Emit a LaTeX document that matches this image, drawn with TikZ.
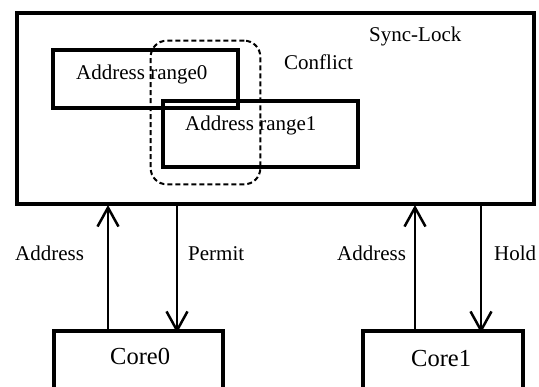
\documentclass[tikz,border=0pt]{standalone}
\usepackage{fontspec}
\setmainfont{Liberation Serif}
\usetikzlibrary{arrows.meta}
\tikzset{
  box/.style={draw, line width=4pt, rectangle, inner sep=0pt, outer sep=2pt},
  dashbox/.style={draw, line width=2pt, rectangle, rounded corners=16pt, dash pattern=on 5pt off 3pt, inner sep=0pt, outer sep=0pt},
  lbl/.style={inner sep=0pt, anchor=base west, font=\fontsize{21}{25}\selectfont},
  corelbl/.style={inner sep=0pt, anchor=base west, font=\fontsize{24.5}{29}\selectfont},
  sig/.style={line width=2.5pt, -{Straight Barb[length=19pt,width=21pt,line width=2.5pt]}}
}
\begin{document}
\begin{tikzpicture}[x=1pt,y=-1pt]
\useasboundingbox (0,0) rectangle (539,387);
\clip (0,0) rectangle (539,387);
% main box
\node[box, minimum width=516.8pt, minimum height=191.3pt] (sync) at (275.1,108.35) {};
\node[lbl] (synct) at (369,41.7) {Sync-Lock};
\node[lbl] (conf) at (284,70) {Conflict};
% address ranges
\node[box, minimum width=185pt, minimum height=58.4pt] (r0) at (145.8,79.1) {};
\node[lbl] (r0t) at (76,80) {Address range0};
\node[box, minimum width=194.4pt, minimum height=66.1pt] (r1) at (260.5,133.65) {};
\node[lbl] (r1t) at (185,130.7) {Address range1};
\node[dashbox, minimum width=109.6pt, minimum height=143.6pt] (cf) at (205.5,112.5) {};
% cores
\node[box, minimum width=169pt, minimum height=100pt] (core0) at (138.5,381) {};
\node[corelbl] (core0t) at (110,365) {Core0};
\node[box, minimum width=160pt, minimum height=100pt] (core1) at (443,381) {};
\node[corelbl] (core1t) at (411,367) {Core1};
% connector x positions
\coordinate (a0) at (108,0);
\coordinate (p0) at (177,0);
\coordinate (a1) at (415,0);
\coordinate (h1) at (481,0);
\draw[sig] (core0.north -| a0) -- ([yshift=1pt]sync.south -| a0);
\draw[sig] (sync.south -| p0) -- ([yshift=-4pt]core0.north -| p0);
\draw[sig] (core1.north -| a1) -- ([yshift=1pt]sync.south -| a1);
\draw[sig] (sync.south -| h1) -- ([yshift=-4pt]core1.north -| h1);
% signal labels
\node[lbl] (la0) at (15,260.5) {Address};
\node[lbl] (lp0) at (188,260.5) {Permit};
\node[lbl] (la1) at (337,260.5) {Address};
\node[lbl] (lh1) at (494,260.5) {Hold};
\end{tikzpicture}
\end{document}
